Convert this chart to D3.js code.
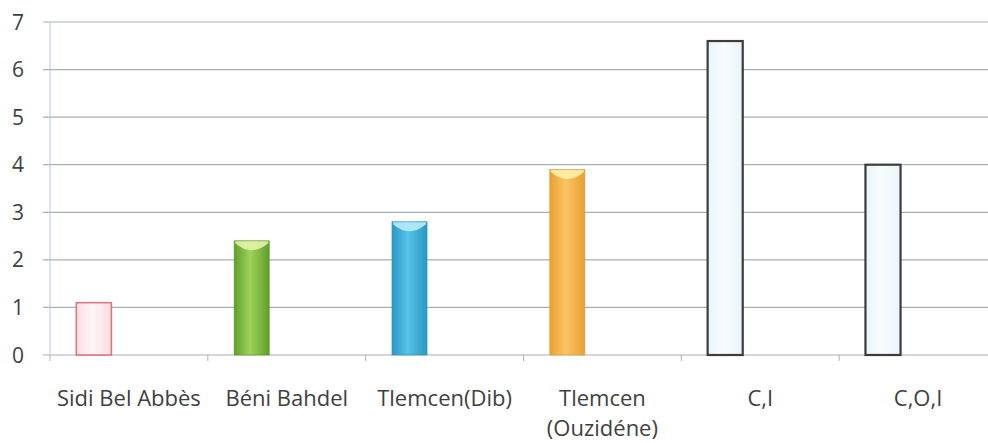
<!DOCTYPE html>
<html>
<head>
<meta charset="utf-8">
<script src="https://cdn.jsdelivr.net/npm/d3@7"></script>
<style>
  html, body { margin: 0; padding: 0; background: #ffffff; }
  svg { display: block; }
  text { font-family: "Open Sans", "Noto Sans", sans-serif; fill: #3f3f3f; }
</style>
</head>
<body>
<svg id="chart" width="988" height="443"></svg>
<script>
// Sites and measured values
const categories = ["Sidi Bel Abbès", "Béni Bahdel", "Tlemcen(Dib)", "Tlemcen (Ouzidéne)", "C,I", "C,O,I"];
const values = [1.1, 2.4, 2.8, 3.9, 6.6, 4.0];
const labelLines = [["Sidi Bel Abbès"], ["Béni Bahdel"], ["Tlemcen(Dib)"], ["Tlemcen", "(Ouzidéne)"], ["C,I"], ["C,O,I"]];
const yTicks = [0, 1, 2, 3, 4, 5, 6, 7];

// Bar appearance per category: edge colour, centre colour, outline, cap highlight
const barStyles = [
  { dark: "#fbdde3", light: "#fff4f6", stroke: "#d9797f", sw: 1.6, cap: null },
  { dark: "#5f9e2c", light: "#9fd25a", stroke: "#5a8f2a", sw: 0.6, cap: "#e4f3a8" },
  { dark: "#2a98c4", light: "#55c3e6", stroke: "#2b8fb8", sw: 0.6, cap: "#b8ecf8" },
  { dark: "#e9a032", light: "#fbc462", stroke: "#dc9a35", sw: 0.6, cap: "#fff0a8" },
  { dark: "#eaf5fa", light: "#f7fbfd", stroke: "#3c3c3c", sw: 2.2, cap: null },
  { dark: "#eaf5fa", light: "#f7fbfd", stroke: "#3c3c3c", sw: 2.2, cap: null }
];

const svg = d3.select("#chart");
const margin = { left: 50, top: 22, right: -9, bottom: 88 };
const W = 988, H = 443;

const x = d3.scaleBand().domain(categories).range([margin.left, W - margin.right]).paddingInner(0).paddingOuter(0);
// each category slot holds three cluster positions; the bar uses the first one
const slot = d3.scaleBand().domain([0, 1, 2]).range([0, x.bandwidth()]).paddingInner(0).paddingOuter(0.75);
const y = d3.scaleLinear().domain([0, 7]).range([H - margin.bottom, margin.top]);

const defs = svg.append("defs");
barStyles.forEach((s, i) => {
  const g = defs.append("linearGradient").attr("id", "grad" + i).attr("x1", "0").attr("x2", "1").attr("y1", "0").attr("y2", "0");
  g.append("stop").attr("offset", "0%").attr("stop-color", s.dark);
  g.append("stop").attr("offset", "45%").attr("stop-color", s.light);
  g.append("stop").attr("offset", "100%").attr("stop-color", s.dark);
});

// horizontal gridlines (extend a little left of the axis as tick marks)
svg.append("g").attr("class", "grid")
  .selectAll("line").data(yTicks).join("line")
  .attr("x1", margin.left - 7).attr("x2", W)
  .attr("y1", d => y(d)).attr("y2", d => y(d))
  .attr("stroke", "#a7afb6").attr("stroke-width", 1.2);

// vertical value axis line
svg.append("line")
  .attr("x1", margin.left).attr("x2", margin.left)
  .attr("y1", y(7)).attr("y2", y(0))
  .attr("stroke", "#b9c6d2").attr("stroke-width", 1);

// y tick labels
svg.append("g").selectAll("text").data(yTicks).join("text")
  .attr("x", 24).attr("y", d => y(d)).attr("dy", "0.36em")
  .attr("text-anchor", "end").attr("font-size", 21)
  .text(d => d);

// category tick marks at band boundaries
const boundaries = categories.map(c => x(c));
svg.append("g").selectAll("line").data(boundaries).join("line")
  .attr("x1", d => d).attr("x2", d => d)
  .attr("y1", y(0)).attr("y2", y(0) + 6)
  .attr("stroke", "#a9b0b6").attr("stroke-width", 1);

// bars
const bars = svg.append("g").selectAll("g").data(categories).join("g");
bars.append("rect")
  .attr("x", (d, i) => x(d) + slot(0))
  .attr("y", (d, i) => y(values[i]))
  .attr("width", slot.bandwidth())
  .attr("height", (d, i) => y(0) - y(values[i]))
  .attr("fill", (d, i) => `url(#grad${i})`)
  .attr("stroke", (d, i) => barStyles[i].stroke)
  .attr("stroke-width", (d, i) => barStyles[i].sw);

// rounded-bevel highlight on the top of the shaded bars
bars.filter((d, i) => barStyles[i].cap)
  .append("path")
  .attr("d", d => {
    const i = categories.indexOf(d);
    const x0 = x(d) + slot(0) + 1, x1 = x0 + slot.bandwidth() - 2, yt = y(values[i]) + 0.5;
    const xc = (x0 + x1) / 2;
    return `M${x0},${yt} L${x1},${yt} L${x1},${yt + 2} Q${xc},${yt + 16} ${x0},${yt + 2} Z`;
  })
  .attr("fill", d => barStyles[categories.indexOf(d)].cap)
  .attr("opacity", 0.9);

// x category labels
svg.append("g").selectAll("text").data(categories).join("text")
  .attr("x", d => x(d) + x.bandwidth() / 2)
  .attr("y", 406)
  .attr("text-anchor", "middle").attr("font-size", 22)
  .each(function(d, i) {
    d3.select(this).selectAll("tspan").data(labelLines[i]).join("tspan")
      .attr("x", x(d) + x.bandwidth() / 2)
      .attr("dy", (t, k) => k === 0 ? 0 : 30)
      .text(t => t);
  });
</script>
</body>
</html>
